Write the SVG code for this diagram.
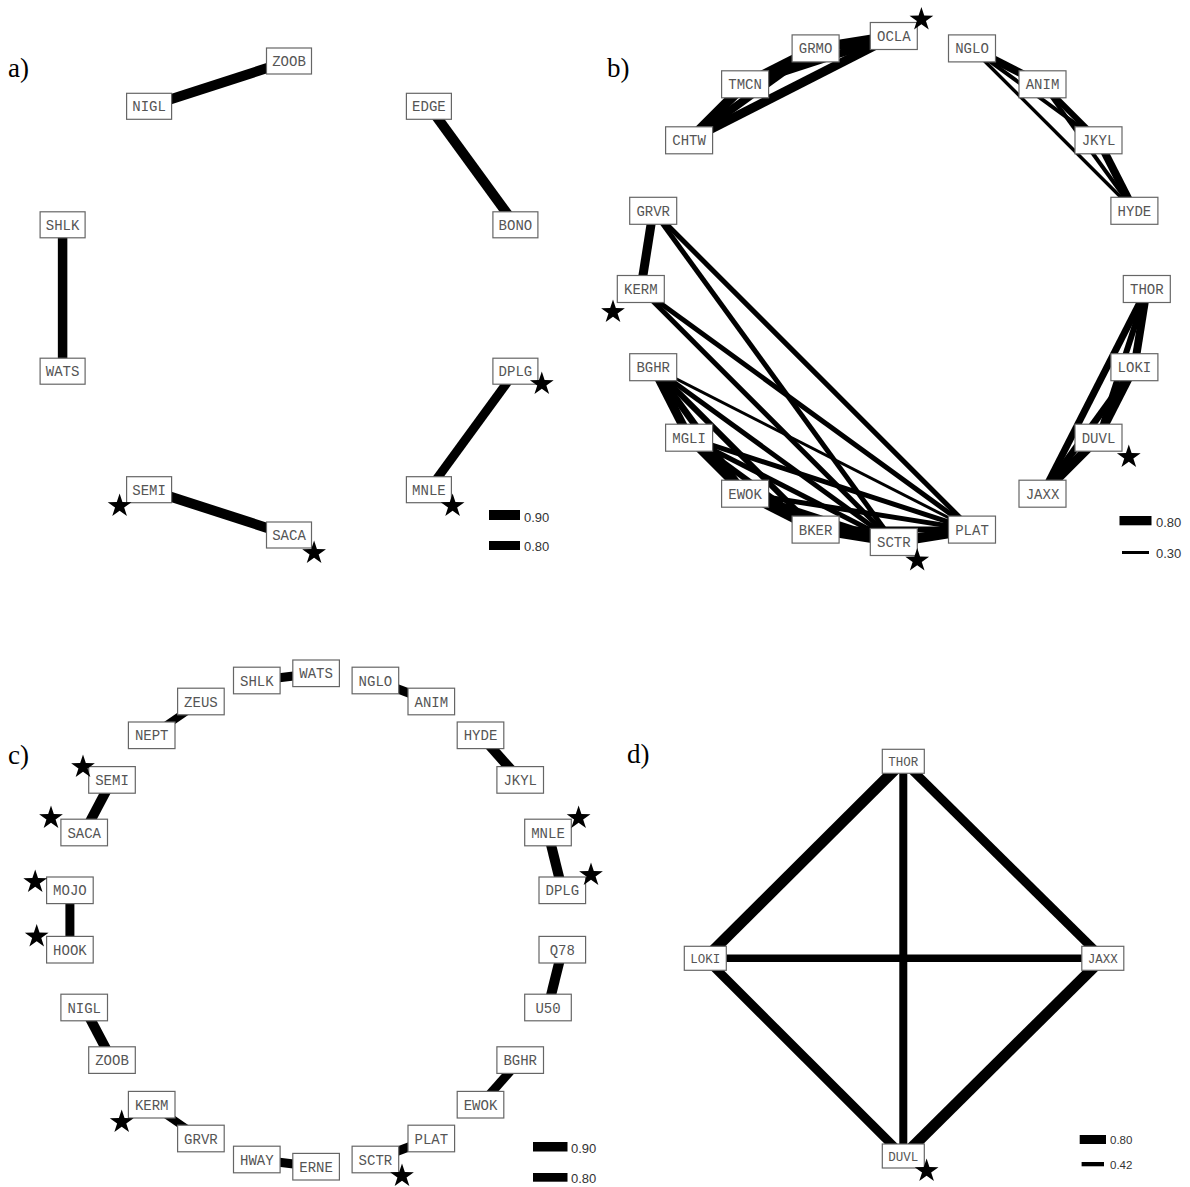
<svg xmlns="http://www.w3.org/2000/svg" width="1190" height="1187" viewBox="0 0 1190 1187">
<style>
.bg{fill:#fff}
.plabel{font-family:"Liberation Serif","Times New Roman",serif;font-size:27px;fill:#000}
.e{stroke:#000;fill:none;stroke-linecap:butt}
.node rect{fill:#fff;stroke:#666;stroke-width:1.2}
.node text{font-family:"Liberation Mono","Courier New",monospace;font-size:14px;fill:#555;text-anchor:middle}
.nd rect{fill:#fff;stroke:#666;stroke-width:1.2}
.nd text{font-family:"Liberation Mono","Courier New",monospace;font-size:12.5px;fill:#555;text-anchor:middle}
.star{fill:#000}
.lg{fill:#000}
.lgt{font-family:"Liberation Sans",Arial,sans-serif;font-size:13px;fill:#333}
.lgd{font-family:"Liberation Sans",Arial,sans-serif;font-size:11.5px;fill:#333}
</style>
<defs>
<polygon id="star" points="0,-12.5 2.82,-3.88 11.89,-3.86 4.57,1.48 7.35,10.11 0,4.8 -7.35,10.11 -4.57,1.48 -11.89,-3.86 -2.82,-3.88"/>
</defs>
<rect class="bg" x="0" y="0" width="1190" height="1187"/>

<!-- ============ Panel a ============ -->
<g id="panel-a">
<text class="plabel" x="8" y="77">a)</text>
<g id="a-connectors">
<line class="e" x1="149.1" y1="106.3" x2="289" y2="61" stroke-width="10"/>
<line class="e" x1="428.9" y1="106.3" x2="515.4" y2="224.8" stroke-width="10"/>
<line class="e" x1="62.6" y1="224.8" x2="62.6" y2="371.2" stroke-width="9.5"/>
<line class="e" x1="149.1" y1="489.7" x2="289" y2="535" stroke-width="10"/>
<line class="e" x1="428.9" y1="489.7" x2="515.4" y2="371.2" stroke-width="9"/>
</g>
<g id="a-ZOOB" class="node" transform="translate(289,61)"><rect x="-22.5" y="-13" width="45" height="26"/><text y="5">ZOOB</text></g>
<g id="a-EDGE" class="node" transform="translate(428.9,106.3)"><rect x="-22.5" y="-13" width="45" height="26"/><text y="5">EDGE</text></g>
<g id="a-BONO" class="node" transform="translate(515.4,224.8)"><rect x="-22.5" y="-13" width="45" height="26"/><text y="5">BONO</text></g>
<g id="a-DPLG" class="node" transform="translate(515.4,371.2)"><rect x="-22.5" y="-13" width="45" height="26"/><text y="5">DPLG</text></g>
<g id="a-MNLE" class="node" transform="translate(428.9,489.7)"><rect x="-22.5" y="-13" width="45" height="26"/><text y="5">MNLE</text></g>
<g id="a-SACA" class="node" transform="translate(289,535)"><rect x="-22.5" y="-13" width="45" height="26"/><text y="5">SACA</text></g>
<g id="a-SEMI" class="node" transform="translate(149.1,489.7)"><rect x="-22.5" y="-13" width="45" height="26"/><text y="5">SEMI</text></g>
<g id="a-WATS" class="node" transform="translate(62.6,371.2)"><rect x="-22.5" y="-13" width="45" height="26"/><text y="5">WATS</text></g>
<g id="a-SHLK" class="node" transform="translate(62.6,224.8)"><rect x="-22.5" y="-13" width="45" height="26"/><text y="5">SHLK</text></g>
<g id="a-NIGL" class="node" transform="translate(149.1,106.3)"><rect x="-22.5" y="-13" width="45" height="26"/><text y="5">NIGL</text></g>
<g id="a-stars">
<use href="#star" class="star" x="119.6" y="506"/>
<use href="#star" class="star" x="314.1" y="553"/>
<use href="#star" class="star" x="452.6" y="506"/>
<use href="#star" class="star" x="541.8" y="384"/>
</g>
<g id="a-legend">
<rect class="lg" x="489" y="510" width="31" height="10"/>
<text class="lgt" x="524" y="521.5">0.90</text>
<rect class="lg" x="489" y="541" width="31" height="9"/>
<text class="lgt" x="524" y="551">0.80</text>
</g>
</g>

<!-- ============ Panel b ============ -->
<g id="panel-b">
<text class="plabel" x="607" y="77">b)</text>
<g id="b-connectors">
<line class="e" x1="893.8" y1="36" x2="815.6" y2="48.4" stroke-width="10"/>
<line class="e" x1="815.6" y1="48.4" x2="745.1" y2="84.3" stroke-width="10"/>
<line class="e" x1="745.1" y1="84.3" x2="689.1" y2="140.3" stroke-width="10"/>
<line class="e" x1="893.8" y1="36" x2="745.1" y2="84.3" stroke-width="8"/>
<line class="e" x1="815.6" y1="48.4" x2="689.1" y2="140.3" stroke-width="8"/>
<line class="e" x1="893.8" y1="36" x2="689.1" y2="140.3" stroke-width="9"/>
<line class="e" x1="972" y1="48.4" x2="1042.5" y2="84.3" stroke-width="8"/>
<line class="e" x1="972" y1="48.4" x2="1098.5" y2="140.3" stroke-width="4"/>
<line class="e" x1="972" y1="48.4" x2="1134.4" y2="210.8" stroke-width="3.5"/>
<line class="e" x1="1042.5" y1="84.3" x2="1098.5" y2="140.3" stroke-width="6"/>
<line class="e" x1="1042.5" y1="84.3" x2="1134.4" y2="210.8" stroke-width="4"/>
<line class="e" x1="1098.5" y1="140.3" x2="1134.4" y2="210.8" stroke-width="8"/>
<line class="e" x1="1146.8" y1="289" x2="1134.4" y2="367.2" stroke-width="8"/>
<line class="e" x1="1134.4" y1="367.2" x2="1098.5" y2="437.7" stroke-width="8"/>
<line class="e" x1="1098.5" y1="437.7" x2="1042.5" y2="493.7" stroke-width="9"/>
<line class="e" x1="1146.8" y1="289" x2="1098.5" y2="437.7" stroke-width="6"/>
<line class="e" x1="1146.8" y1="289" x2="1042.5" y2="493.7" stroke-width="7"/>
<line class="e" x1="1134.4" y1="367.2" x2="1042.5" y2="493.7" stroke-width="7"/>
<line class="e" x1="653.2" y1="210.8" x2="640.8" y2="289" stroke-width="9"/>
<line class="e" x1="653.2" y1="210.8" x2="893.8" y2="542" stroke-width="5"/>
<line class="e" x1="653.2" y1="210.8" x2="972" y2="529.6" stroke-width="5"/>
<line class="e" x1="640.8" y1="289" x2="893.8" y2="542" stroke-width="5"/>
<line class="e" x1="640.8" y1="289" x2="972" y2="529.6" stroke-width="5"/>
<line class="e" x1="653.2" y1="367.2" x2="689.1" y2="437.7" stroke-width="9"/>
<line class="e" x1="653.2" y1="367.2" x2="745.1" y2="493.7" stroke-width="7"/>
<line class="e" x1="653.2" y1="367.2" x2="815.6" y2="529.6" stroke-width="6"/>
<line class="e" x1="653.2" y1="367.2" x2="893.8" y2="542" stroke-width="5"/>
<line class="e" x1="653.2" y1="367.2" x2="972" y2="529.6" stroke-width="3"/>
<line class="e" x1="689.1" y1="437.7" x2="745.1" y2="493.7" stroke-width="9"/>
<line class="e" x1="689.1" y1="437.7" x2="815.6" y2="529.6" stroke-width="6"/>
<line class="e" x1="689.1" y1="437.7" x2="893.8" y2="542" stroke-width="5"/>
<line class="e" x1="689.1" y1="437.7" x2="972" y2="529.6" stroke-width="5"/>
<line class="e" x1="745.1" y1="493.7" x2="815.6" y2="529.6" stroke-width="9"/>
<line class="e" x1="745.1" y1="493.7" x2="893.8" y2="542" stroke-width="6"/>
<line class="e" x1="745.1" y1="493.7" x2="972" y2="529.6" stroke-width="5"/>
<line class="e" x1="815.6" y1="529.6" x2="893.8" y2="542" stroke-width="9"/>
<line class="e" x1="815.6" y1="529.6" x2="972" y2="529.6" stroke-width="6"/>
<line class="e" x1="893.8" y1="542" x2="972" y2="529.6" stroke-width="10"/>
</g>
<g id="b-OCLA" class="node" transform="translate(893.8,36)"><rect x="-23.5" y="-13.5" width="47" height="27"/><text y="5">OCLA</text></g>
<g id="b-NGLO" class="node" transform="translate(972,48.4)"><rect x="-23.5" y="-13.5" width="47" height="27"/><text y="5">NGLO</text></g>
<g id="b-ANIM" class="node" transform="translate(1042.5,84.3)"><rect x="-23.5" y="-13.5" width="47" height="27"/><text y="5">ANIM</text></g>
<g id="b-JKYL" class="node" transform="translate(1098.5,140.3)"><rect x="-23.5" y="-13.5" width="47" height="27"/><text y="5">JKYL</text></g>
<g id="b-HYDE" class="node" transform="translate(1134.4,210.8)"><rect x="-23.5" y="-13.5" width="47" height="27"/><text y="5">HYDE</text></g>
<g id="b-THOR" class="node" transform="translate(1146.8,289)"><rect x="-23.5" y="-13.5" width="47" height="27"/><text y="5">THOR</text></g>
<g id="b-LOKI" class="node" transform="translate(1134.4,367.2)"><rect x="-23.5" y="-13.5" width="47" height="27"/><text y="5">LOKI</text></g>
<g id="b-DUVL" class="node" transform="translate(1098.5,437.7)"><rect x="-23.5" y="-13.5" width="47" height="27"/><text y="5">DUVL</text></g>
<g id="b-JAXX" class="node" transform="translate(1042.5,493.7)"><rect x="-23.5" y="-13.5" width="47" height="27"/><text y="5">JAXX</text></g>
<g id="b-PLAT" class="node" transform="translate(972,529.6)"><rect x="-23.5" y="-13.5" width="47" height="27"/><text y="5">PLAT</text></g>
<g id="b-SCTR" class="node" transform="translate(893.8,542)"><rect x="-23.5" y="-13.5" width="47" height="27"/><text y="5">SCTR</text></g>
<g id="b-BKER" class="node" transform="translate(815.6,529.6)"><rect x="-23.5" y="-13.5" width="47" height="27"/><text y="5">BKER</text></g>
<g id="b-EWOK" class="node" transform="translate(745.1,493.7)"><rect x="-23.5" y="-13.5" width="47" height="27"/><text y="5">EWOK</text></g>
<g id="b-MGLI" class="node" transform="translate(689.1,437.7)"><rect x="-23.5" y="-13.5" width="47" height="27"/><text y="5">MGLI</text></g>
<g id="b-BGHR" class="node" transform="translate(653.2,367.2)"><rect x="-23.5" y="-13.5" width="47" height="27"/><text y="5">BGHR</text></g>
<g id="b-KERM" class="node" transform="translate(640.8,289)"><rect x="-23.5" y="-13.5" width="47" height="27"/><text y="5">KERM</text></g>
<g id="b-GRVR" class="node" transform="translate(653.2,210.8)"><rect x="-23.5" y="-13.5" width="47" height="27"/><text y="5">GRVR</text></g>
<g id="b-CHTW" class="node" transform="translate(689.1,140.3)"><rect x="-23.5" y="-13.5" width="47" height="27"/><text y="5">CHTW</text></g>
<g id="b-TMCN" class="node" transform="translate(745.1,84.3)"><rect x="-23.5" y="-13.5" width="47" height="27"/><text y="5">TMCN</text></g>
<g id="b-GRMO" class="node" transform="translate(815.6,48.4)"><rect x="-23.5" y="-13.5" width="47" height="27"/><text y="5">GRMO</text></g>
<g id="b-stars">
<use href="#star" class="star" x="921.4" y="19.5"/>
<use href="#star" class="star" x="613" y="312"/>
<use href="#star" class="star" x="917.2" y="560.5"/>
<use href="#star" class="star" x="1128.8" y="457"/>
</g>
<g id="b-legend">
<rect class="lg" x="1119.5" y="516" width="32" height="9.3"/>
<text class="lgt" x="1156" y="527">0.80</text>
<rect class="lg" x="1122" y="551" width="27" height="3"/>
<text class="lgt" x="1156" y="558">0.30</text>
</g>
</g>

<!-- ============ Panel c ============ -->
<g id="panel-c">
<text class="plabel" x="8" y="764">c)</text>
<g id="c-connectors">
<line class="e" x1="256.8" y1="680.5" x2="316.1" y2="673.3" stroke-width="9"/>
<line class="e" x1="375.4" y1="680.5" x2="431.3" y2="701.5" stroke-width="9"/>
<line class="e" x1="200.9" y1="701.5" x2="151.7" y2="735.3" stroke-width="8"/>
<line class="e" x1="480.5" y1="735.3" x2="520.2" y2="779.9" stroke-width="10"/>
<line class="e" x1="112" y1="779.9" x2="84.2" y2="832.5" stroke-width="10"/>
<line class="e" x1="548" y1="832.5" x2="562.3" y2="890.3" stroke-width="10"/>
<line class="e" x1="69.9" y1="890.3" x2="69.9" y2="949.7" stroke-width="9"/>
<line class="e" x1="562.3" y1="949.7" x2="548" y2="1007.5" stroke-width="10"/>
<line class="e" x1="84.2" y1="1007.5" x2="112" y2="1060.1" stroke-width="10"/>
<line class="e" x1="520.2" y1="1060.1" x2="480.5" y2="1104.7" stroke-width="9"/>
<line class="e" x1="151.7" y1="1104.7" x2="200.9" y2="1138.5" stroke-width="8"/>
<line class="e" x1="431.3" y1="1138.5" x2="375.4" y2="1159.5" stroke-width="9"/>
<line class="e" x1="256.8" y1="1159.5" x2="316.1" y2="1166.7" stroke-width="9"/>
</g>
<g id="c-WATS" class="node" transform="translate(316.1,673.3)"><rect x="-23.3" y="-13.3" width="46.6" height="26.6"/><text y="5">WATS</text></g>
<g id="c-NGLO" class="node" transform="translate(375.4,680.5)"><rect x="-23.3" y="-13.3" width="46.6" height="26.6"/><text y="5">NGLO</text></g>
<g id="c-ANIM" class="node" transform="translate(431.3,701.5)"><rect x="-23.3" y="-13.3" width="46.6" height="26.6"/><text y="5">ANIM</text></g>
<g id="c-HYDE" class="node" transform="translate(480.5,735.3)"><rect x="-23.3" y="-13.3" width="46.6" height="26.6"/><text y="5">HYDE</text></g>
<g id="c-JKYL" class="node" transform="translate(520.2,779.9)"><rect x="-23.3" y="-13.3" width="46.6" height="26.6"/><text y="5">JKYL</text></g>
<g id="c-MNLE" class="node" transform="translate(548,832.5)"><rect x="-23.3" y="-13.3" width="46.6" height="26.6"/><text y="5">MNLE</text></g>
<g id="c-DPLG" class="node" transform="translate(562.3,890.3)"><rect x="-23.3" y="-13.3" width="46.6" height="26.6"/><text y="5">DPLG</text></g>
<g id="c-Q78" class="node" transform="translate(562.3,949.7)"><rect x="-23.3" y="-13.3" width="46.6" height="26.6"/><text y="5">Q78</text></g>
<g id="c-U50" class="node" transform="translate(548,1007.5)"><rect x="-23.3" y="-13.3" width="46.6" height="26.6"/><text y="5">U50</text></g>
<g id="c-BGHR" class="node" transform="translate(520.2,1060.1)"><rect x="-23.3" y="-13.3" width="46.6" height="26.6"/><text y="5">BGHR</text></g>
<g id="c-EWOK" class="node" transform="translate(480.5,1104.7)"><rect x="-23.3" y="-13.3" width="46.6" height="26.6"/><text y="5">EWOK</text></g>
<g id="c-PLAT" class="node" transform="translate(431.3,1138.5)"><rect x="-23.3" y="-13.3" width="46.6" height="26.6"/><text y="5">PLAT</text></g>
<g id="c-SCTR" class="node" transform="translate(375.4,1159.5)"><rect x="-23.3" y="-13.3" width="46.6" height="26.6"/><text y="5">SCTR</text></g>
<g id="c-ERNE" class="node" transform="translate(316.1,1166.7)"><rect x="-23.3" y="-13.3" width="46.6" height="26.6"/><text y="5">ERNE</text></g>
<g id="c-HWAY" class="node" transform="translate(256.8,1159.5)"><rect x="-23.3" y="-13.3" width="46.6" height="26.6"/><text y="5">HWAY</text></g>
<g id="c-GRVR" class="node" transform="translate(200.9,1138.5)"><rect x="-23.3" y="-13.3" width="46.6" height="26.6"/><text y="5">GRVR</text></g>
<g id="c-KERM" class="node" transform="translate(151.7,1104.7)"><rect x="-23.3" y="-13.3" width="46.6" height="26.6"/><text y="5">KERM</text></g>
<g id="c-ZOOB" class="node" transform="translate(112,1060.1)"><rect x="-23.3" y="-13.3" width="46.6" height="26.6"/><text y="5">ZOOB</text></g>
<g id="c-NIGL" class="node" transform="translate(84.2,1007.5)"><rect x="-23.3" y="-13.3" width="46.6" height="26.6"/><text y="5">NIGL</text></g>
<g id="c-HOOK" class="node" transform="translate(69.9,949.7)"><rect x="-23.3" y="-13.3" width="46.6" height="26.6"/><text y="5">HOOK</text></g>
<g id="c-MOJO" class="node" transform="translate(69.9,890.3)"><rect x="-23.3" y="-13.3" width="46.6" height="26.6"/><text y="5">MOJO</text></g>
<g id="c-SACA" class="node" transform="translate(84.2,832.5)"><rect x="-23.3" y="-13.3" width="46.6" height="26.6"/><text y="5">SACA</text></g>
<g id="c-SEMI" class="node" transform="translate(112,779.9)"><rect x="-23.3" y="-13.3" width="46.6" height="26.6"/><text y="5">SEMI</text></g>
<g id="c-NEPT" class="node" transform="translate(151.7,735.3)"><rect x="-23.3" y="-13.3" width="46.6" height="26.6"/><text y="5">NEPT</text></g>
<g id="c-ZEUS" class="node" transform="translate(200.9,701.5)"><rect x="-23.3" y="-13.3" width="46.6" height="26.6"/><text y="5">ZEUS</text></g>
<g id="c-SHLK" class="node" transform="translate(256.8,680.5)"><rect x="-23.3" y="-13.3" width="46.6" height="26.6"/><text y="5">SHLK</text></g>
<g id="c-stars">
<use href="#star" class="star" x="83" y="767"/>
<use href="#star" class="star" x="51" y="818"/>
<use href="#star" class="star" x="35.2" y="882"/>
<use href="#star" class="star" x="36.7" y="936.5"/>
<use href="#star" class="star" x="578.6" y="818"/>
<use href="#star" class="star" x="591" y="875"/>
<use href="#star" class="star" x="121.7" y="1122"/>
<use href="#star" class="star" x="402" y="1176"/>
</g>
<g id="c-legend">
<rect class="lg" x="533" y="1142" width="34.5" height="9.5"/>
<text class="lgt" x="571" y="1152.5">0.90</text>
<rect class="lg" x="533" y="1173" width="34.5" height="8.7"/>
<text class="lgt" x="571" y="1182.5">0.80</text>
</g>
</g>

<!-- ============ Panel d ============ -->
<g id="panel-d">
<text class="plabel" x="627" y="763">d)</text>
<g id="d-connectors">
<line class="e" x1="903.3" y1="761.3" x2="705.3" y2="958.3" stroke-width="11"/>
<line class="e" x1="903.3" y1="761.3" x2="1102.8" y2="958.3" stroke-width="9"/>
<line class="e" x1="903.3" y1="761.3" x2="903.3" y2="1156" stroke-width="8"/>
<line class="e" x1="705.3" y1="958.3" x2="1102.8" y2="958.3" stroke-width="7.5"/>
<line class="e" x1="705.3" y1="958.3" x2="903.3" y2="1156" stroke-width="9"/>
<line class="e" x1="1102.8" y1="958.3" x2="903.3" y2="1156" stroke-width="11"/>
</g>
<g id="d-THOR" class="nd" transform="translate(903.3,761.3)"><rect x="-21" y="-12" width="42" height="24"/><text y="4.5">THOR</text></g>
<g id="d-LOKI" class="nd" transform="translate(705.3,958.3)"><rect x="-21" y="-12" width="42" height="24"/><text y="4.5">LOKI</text></g>
<g id="d-JAXX" class="nd" transform="translate(1102.8,958.3)"><rect x="-21" y="-12" width="42" height="24"/><text y="4.5">JAXX</text></g>
<g id="d-DUVL" class="nd" transform="translate(903.3,1156)"><rect x="-21" y="-12" width="42" height="24"/><text y="4.5">DUVL</text></g>
<use href="#star" class="star" x="926.6" y="1171"/>
<g id="d-legend">
<rect class="lg" x="1079.7" y="1135" width="26.3" height="9"/>
<text class="lgd" x="1110" y="1144">0.80</text>
<rect class="lg" x="1081.6" y="1162" width="22.4" height="4.3"/>
<text class="lgd" x="1110" y="1169">0.42</text>
</g>
</g>
</svg>
